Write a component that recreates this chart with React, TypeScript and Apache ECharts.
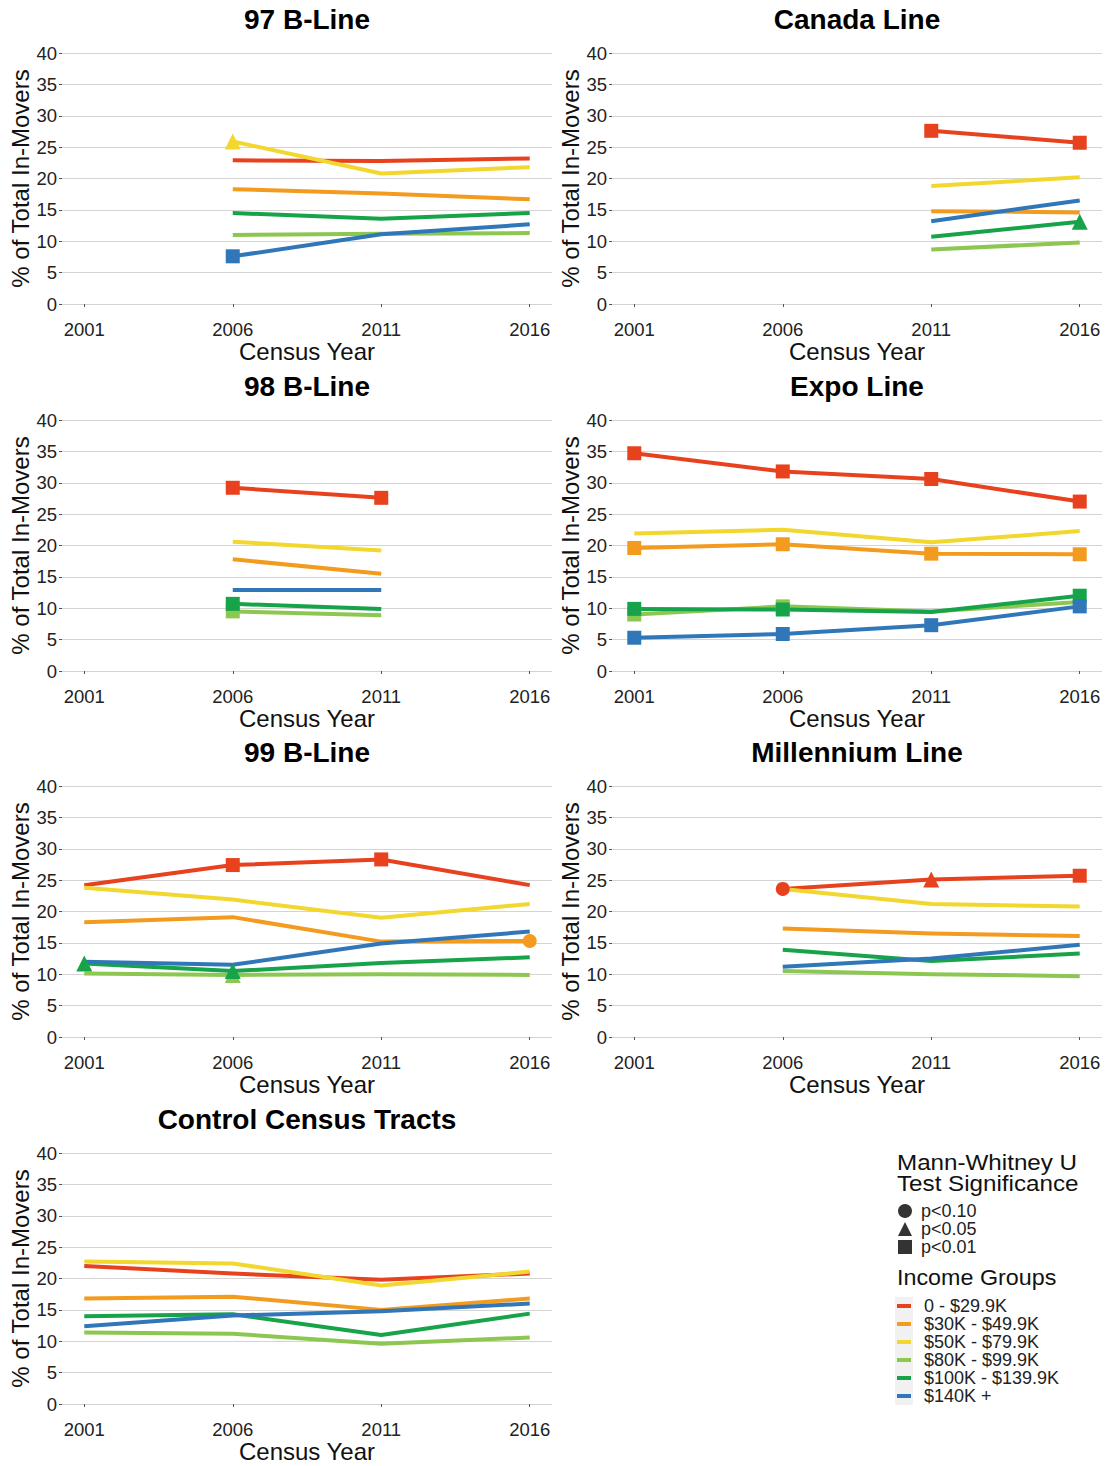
import React, { useEffect, useRef } from "react";
import * as echarts from "echarts";

// ---------- data ----------
const years = [2001, 2006, 2011, 2016];

const incomeGroups = [
  "0 - $29.9K",
  "$30K - $49.9K",
  "$50K - $79.9K",
  "$80K - $99.9K",
  "$100K - $139.9K",
  "$140K +",
];
const groupColors = ["#E8411E", "#F29B1F", "#F2D72E", "#8CC751", "#17A34A", "#2F77B8"];

const panelTitles = [
  "97 B-Line",
  "Canada Line",
  "98 B-Line",
  "Expo Line",
  "99 B-Line",
  "Millennium Line",
  "Control Census Tracts",
];

const sigLabels = ["p<0.10", "p<0.05", "p<0.01"];

// values per income group (rows) for 2001, 2006, 2011, 2016
// significance codes: "." none, "c" p<0.10, "t" p<0.05, "s" p<0.01
const b97Values = [
  [null, 22.9, 22.8, 23.2],
  [null, 18.3, 17.6, 16.7],
  [null, 25.9, 20.8, 21.8],
  [null, 11.0, 11.2, 11.3],
  [null, 14.5, 13.6, 14.5],
  [null, 7.6, 11.1, 12.7],
];
const b97Sig = ["....", "....", ".t..", "....", "....", ".s.."];

const canadaValues = [
  [null, null, 27.6, 25.7],
  [null, null, 14.8, 14.6],
  [null, null, 18.8, 20.2],
  [null, null, 8.7, 9.8],
  [null, null, 10.7, 13.1],
  [null, null, 13.2, 16.5],
];
const canadaSig = ["..ss", "....", "....", "....", "...t", "...."];

const b98Values = [
  [null, 29.2, 27.6, null],
  [null, 17.8, 15.5, null],
  [null, 20.6, 19.2, null],
  [null, 9.5, 8.9, null],
  [null, 10.7, 9.9, null],
  [null, 12.9, 12.9, null],
];
const b98Sig = [".ss.", "....", "....", ".s..", ".s..", "...."];

const expoValues = [
  [34.7, 31.8, 30.6, 27.0],
  [19.6, 20.2, 18.7, 18.6],
  [21.9, 22.5, 20.5, 22.3],
  [9.0, 10.3, 9.5, 11.0],
  [9.9, 9.8, 9.4, 12.0],
  [5.3, 5.9, 7.3, 10.3],
];
const expoSig = ["ssss", "ssss", "....", "ss..", "ss.s", "ssss"];

const b99Values = [
  [24.2, 27.4, 28.3, 24.2],
  [18.3, 19.1, 15.2, 15.3],
  [23.8, 21.9, 19.0, 21.2],
  [10.1, 9.9, 10.0, 9.9],
  [11.7, 10.5, 11.8, 12.7],
  [12.0, 11.5, 14.9, 16.8],
];
const b99Sig = [".ss.", "...c", "....", ".t..", "tt..", "...."];

const millenniumValues = [
  [null, 23.6, 25.1, 25.7],
  [null, 17.3, 16.5, 16.1],
  [null, 23.6, 21.2, 20.8],
  [null, 10.5, 10.0, 9.7],
  [null, 13.9, 12.1, 13.3],
  [null, 11.2, 12.5, 14.7],
];
const millenniumSig = [".cts", "....", "....", "....", "....", "...."];

const controlValues = [
  [22.0, 20.8, 19.8, 20.8],
  [16.8, 17.1, 15.0, 16.8],
  [22.7, 22.4, 18.9, 21.1],
  [11.4, 11.2, 9.6, 10.6],
  [14.0, 14.3, 11.0, 14.4],
  [12.4, 14.1, 14.8, 16.0],
];
const controlSig = ["....", "....", "....", "....", "....", "...."];

const panelValues = [b97Values, canadaValues, b98Values, expoValues, b99Values, millenniumValues, controlValues];
const panelSig = [b97Sig, canadaSig, b98Sig, expoSig, b99Sig, millenniumSig, controlSig];

// ---------- styling ----------
const FONT = "'Liberation Sans', Arial, Helvetica, sans-serif";
const symbolFor: Record<string, string> = { c: "circle", t: "triangle", s: "rect" };
const symbolSizeFor: Record<string, number> = { c: 14, t: 16, s: 14 };
const sigIcons = ["circle", "triangle", "rect"];

const rowTops = [53, 420, 786, 1153];
const colLefts = [62, 612];
const GRID_W = 490;
const GRID_H = 251;

function buildOption() {
  const grids: any[] = [];
  const xAxes: any[] = [];
  const yAxes: any[] = [];
  const titles: any[] = [];
  const series: any[] = [];

  panelTitles.forEach((title, p) => {
    const col = p % 2;
    const row = Math.floor(p / 2);
    const left = colLefts[col];
    const top = rowTops[row];
    grids.push({ left, top, width: GRID_W, height: GRID_H, containLabel: false });
    titles.push({
      text: title,
      left: left + GRID_W / 2,
      top: top - 48,
      textAlign: "center",
      padding: 0,
      textStyle: { fontSize: 28, fontWeight: "bold", color: "#000", fontFamily: FONT },
    });
    xAxes.push({
      type: "value",
      gridIndex: p,
      min: 2000.25,
      max: 2016.75,
      offset: 12,
      axisLine: { show: false },
      axisTick: { show: true, length: 3, customValues: years, lineStyle: { color: "#555", width: 1 } },
      axisLabel: {
        customValues: years,
        formatter: (v: number) => String(v),
        margin: 4,
        fontSize: 18.5,
        color: "#222",
        fontFamily: FONT,
      },
      splitLine: { show: false },
      name: "Census Year",
      nameLocation: "middle",
      nameGap: 23,
      nameTextStyle: { fontSize: 24, color: "#111", fontFamily: FONT },
    });
    yAxes.push({
      type: "value",
      gridIndex: p,
      min: 0,
      max: 40,
      interval: 5,
      axisLine: { show: false },
      axisTick: { show: true, length: 3, lineStyle: { color: "#555", width: 1 } },
      axisLabel: { margin: 5, fontSize: 18.5, color: "#222", fontFamily: FONT },
      splitLine: { show: true, lineStyle: { color: "#d4d4d4", width: 1 } },
      name: "% of Total In-Movers",
      nameLocation: "middle",
      nameGap: 28,
      nameTextStyle: { fontSize: 24, color: "#111", fontFamily: FONT },
    });

    const vals = panelValues[p];
    const sig = panelSig[p];
    incomeGroups.forEach((g, gi) => {
      const data: any[] = [];
      years.forEach((yr, j) => {
        const v = vals[gi][j];
        if (v == null) return;
        const code = sig[gi][j];
        if (code === ".") {
          data.push({ value: [yr, v], symbol: "none" });
        } else {
          data.push({ value: [yr, v], symbol: symbolFor[code], symbolSize: symbolSizeFor[code] });
        }
      });
      series.push({
        type: "line",
        name: g,
        xAxisIndex: p,
        yAxisIndex: p,
        data,
        symbol: "none",
        showSymbol: true,
        color: groupColors[gi],
        itemStyle: { color: groupColors[gi] },
        lineStyle: { color: groupColors[gi], width: 4, join: "round" },
        emphasis: { disabled: true },
        silent: true,
      });
    });
  });

  sigLabels.forEach((n, k) => {
    series.push({
      type: "scatter",
      name: n,
      xAxisIndex: 0,
      yAxisIndex: 0,
      data: [],
      symbol: sigIcons[k],
      color: "#000",
      itemStyle: { color: "#000" },
    });
  });

  return {
    animation: false,
    backgroundColor: "#fff",
    textStyle: { fontFamily: FONT },
    title: titles,
    grid: grids,
    xAxis: xAxes,
    yAxis: yAxes,
    series,
    legend: [
      {
        orient: "vertical",
        left: 898,
        top: 1202,
        padding: 0,
        itemWidth: 14,
        itemHeight: 14,
        itemGap: 0,
        selectedMode: false,
        data: sigLabels.map((n, k) => ({ name: n, icon: sigIcons[k] })),
        itemStyle: { color: "#000", borderWidth: 0 },
        textStyle: { fontSize: 18, lineHeight: 18, color: "#222", fontFamily: FONT, padding: [0, 0, 0, 4] },
      },
      {
        orient: "vertical",
        left: 897,
        top: 1297,
        padding: 0,
        itemWidth: 14,
        itemHeight: 4,
        itemGap: 0,
        selectedMode: false,
        data: incomeGroups.map((n) => ({ name: n, icon: "rect" })),
        itemStyle: { borderWidth: 0 },
        textStyle: { fontSize: 18, lineHeight: 18, color: "#222", fontFamily: FONT, padding: [0, 0, 0, 8] },
      },
    ],
    graphic: [
      {
        type: "rect",
        left: 895,
        top: 1297,
        z: -10,
        shape: { width: 18, height: 108 },
        style: { fill: "#f1f1f1" },
      },
      {
        type: "text",
        x: 897,
        y: 1162,
        scaleX: 1.1,
        style: {
          text: "Mann-Whitney U",
          font: `22px ${FONT}`,
          verticalAlign: "middle",
          fill: "#111",
        },
      },
      {
        type: "text",
        x: 897,
        y: 1183,
        scaleX: 1.1,
        style: {
          text: "Test Significance",
          font: `22px ${FONT}`,
          verticalAlign: "middle",
          fill: "#111",
        },
      },
      {
        type: "text",
        x: 897,
        y: 1277,
        scaleX: 1.06,
        style: { text: "Income Groups", font: `22px ${FONT}`, verticalAlign: "middle", fill: "#111" },
      },
    ],
  };
}

export default function App() {
  const ref = useRef<HTMLDivElement>(null);
  useEffect(() => {
    if (!ref.current) return;
    const chart = echarts.init(ref.current, undefined, { renderer: "svg" });
    chart.setOption(buildOption() as any);
    return () => chart.dispose();
  }, []);
  return (
    <div
      ref={ref}
      style={{ position: "absolute", left: 0, top: 0, width: 1107, height: 1466, background: "#fff" }}
    />
  );
}
